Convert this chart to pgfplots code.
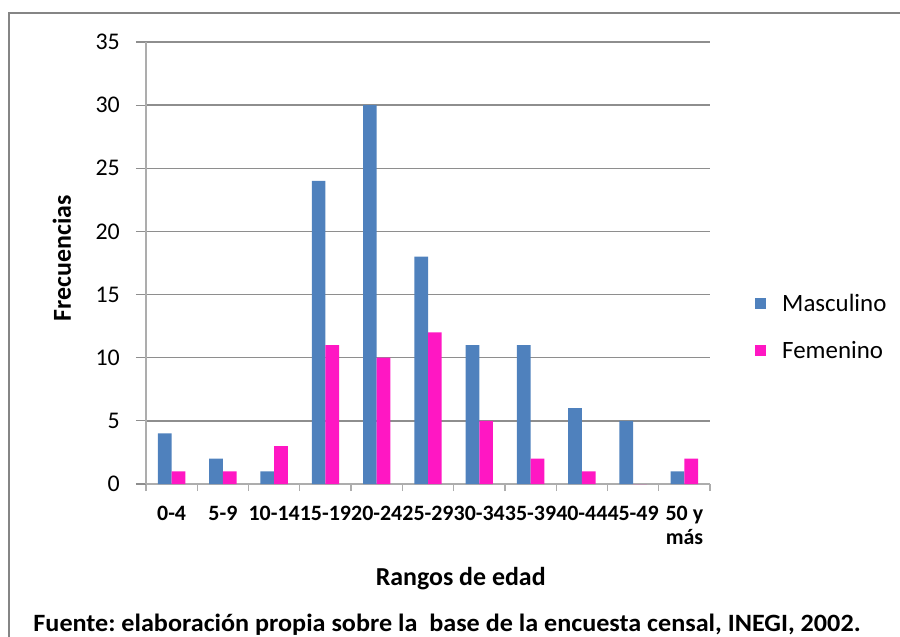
\documentclass[border=0pt]{standalone}
\usepackage{fontspec}
\setmainfont{Carlito}
\usepackage{graphicx}
\usepackage{pgfplots}
\pgfplotsset{compat=1.18}
\definecolor{masc}{HTML}{4F81BD}
\definecolor{fem}{HTML}{FF17C3}
\definecolor{gridc}{HTML}{8E8E8E}
\definecolor{axc}{HTML}{ADADAD}
\definecolor{framec}{HTML}{858585}
\frenchspacing
\begin{document}
\begin{tikzpicture}
\useasboundingbox (0bp,0bp) rectangle (900bp,637bp);
\draw[framec, line width=2.5bp] (9bp,-20bp) -- (9bp,624bp) -- (920bp,624bp);
\begin{axis}[
 at={(146bp,153bp)}, anchor=south west,
 scale only axis, width=564bp, height=442bp,
 ybar=0pt, bar width=13.7bp,
 xmin=-0.5, xmax=10.5, ymin=0, ymax=35,
 axis x line*=bottom, axis y line*=left,
 axis line style={axc, line width=1.5bp, -},
 xtick={0,...,10},
 xticklabels={0-4,5-9,10-14,15-19,20-24,25-29,30-34,35-39,40-44,45-49,{50 y\\más}},
 minor xtick={-0.5,0.5,...,10.5},
 ytick={0,5,...,35},
 /pgf/number format/assume math mode=true,
 tick align=outside,
 major tick length=10bp, minor tick length=7bp,
 major x tick style={draw=none},
 minor x tick style={axc, line width=1.2bp},
 major y tick style={gridc, line width=1.2bp},
 ymajorgrids, major grid style={gridc, line width=1.5bp},
 yticklabel style={font=\fontsize{24}{24}\selectfont, anchor=east, inner sep=0pt, xshift=-16bp},
 xticklabel style={font=\bfseries\fontsize{22}{24}\selectfont, anchor=north, inner sep=0pt, yshift=-12bp, align=right},
 xlabel={Rangos de edad}, ylabel={Frecuencias},
 xlabel style={font=\bfseries\fontsize{26}{26}\selectfont, at={(axis description cs:0.558,-0.213)}, anchor=center},
 ylabel style={font=\bfseries\fontsize{26}{26}\selectfont, at={(axis description cs:-0.149,0.511)}, anchor=center, rotate=0},
 legend style={at={(axis description cs:1.0798,0.355)}, anchor=west, draw=none, fill=none, inner sep=0pt,
   font=\fontsize{25}{25}\selectfont, row sep=25bp, column sep=14bp, legend cell align=left},
 clip=false,
]
\addplot[fill=masc, draw=none, legend image code/.code={\fill[masc] (0bp,-5.5bp) rectangle (11bp,5.5bp);}] coordinates {
 (0,4) (1,2) (2,1) (3,24) (4,30) (5,18) (6,11) (7,11) (8,6) (9,5) (10,1)};
\addlegendentry{Masculino}
\addplot[fill=fem, draw=none, legend image code/.code={\fill[fem] (0bp,-5.5bp) rectangle (11bp,5.5bp);}] coordinates {
 (0,1) (1,1) (2,3) (3,11) (4,10) (5,12) (6,5) (7,2) (8,1) (9,0) (10,2)};
\addlegendentry{Femenino}
\end{axis}
\node[anchor=base, inner sep=0pt, font=\bfseries\fontsize{25}{25}\selectfont] at (447bp,6bp)
 {\scalebox{1.05}[1]{Fuente: elaboración propia sobre la\ \ base de la encuesta censal, INEGI, 2002.}};
\end{tikzpicture}
\end{document}
